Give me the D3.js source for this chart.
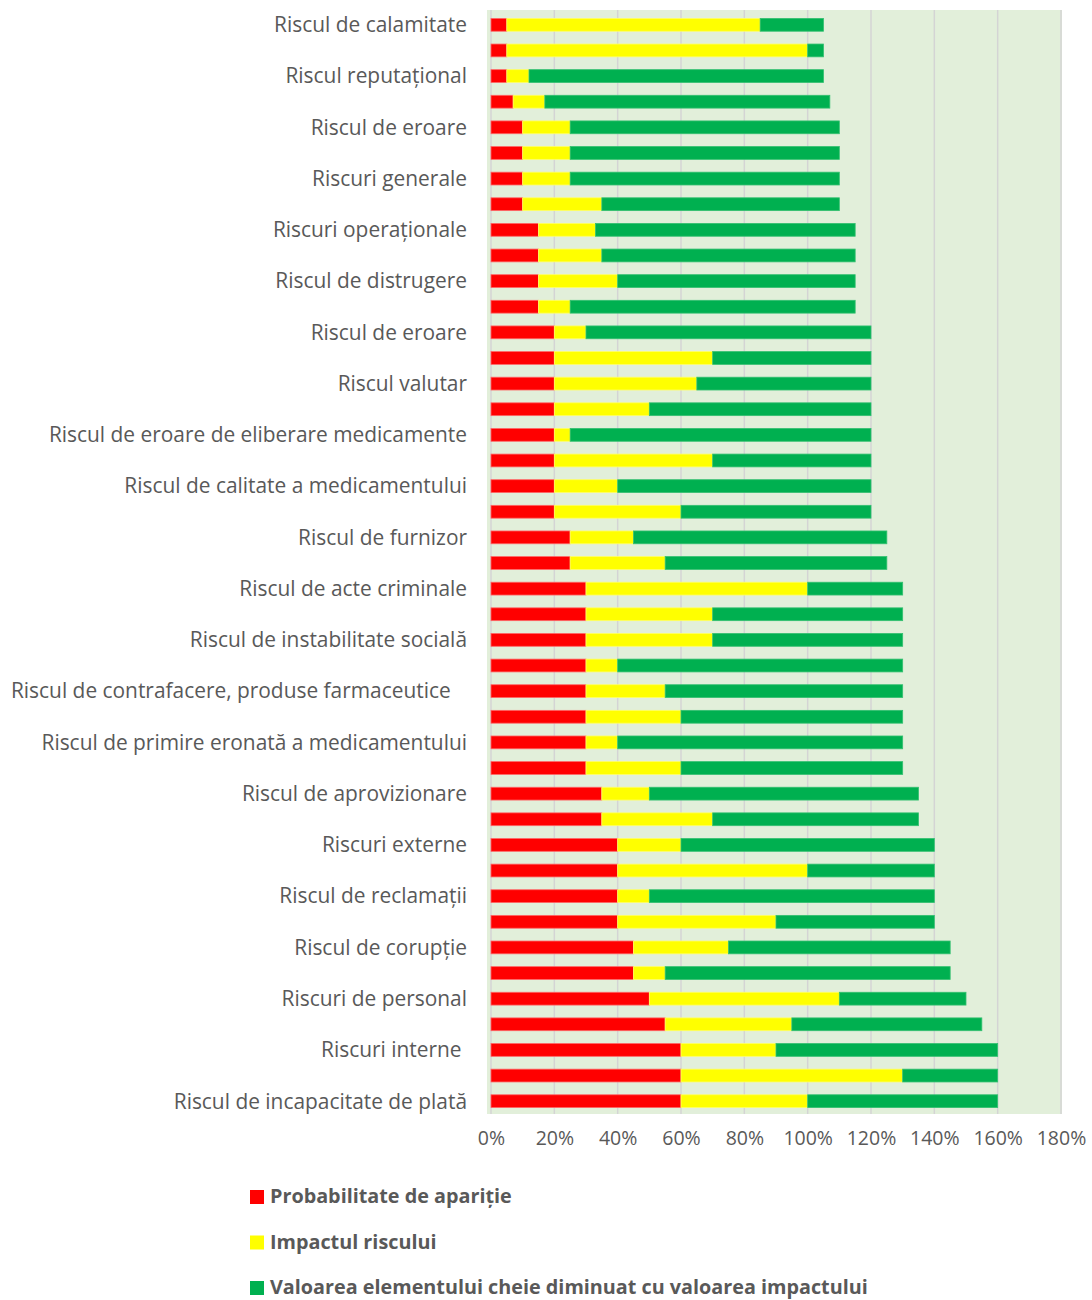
<!DOCTYPE html>
<html>
<head>
<meta charset="utf-8">
<script src="https://cdn.jsdelivr.net/npm/d3@7"></script>
<style>
  body { margin: 0; background: #fff; }
  text { font-family: "Open Sans", "Noto Sans", sans-serif; }
</style>
</head>
<body>
<div id="grafica"></div>
<script>
// etichete (doar cele vizibile, restul goale)
var etichete = ['Riscul de calamitate', '', 'Riscul reputațional', '', 'Riscul de eroare', '',
  'Riscuri generale', '', 'Riscuri operaționale', '', 'Riscul de distrugere', '',
  'Riscul de eroare', '', 'Riscul valutar', '', 'Riscul de eroare de eliberare medicamente', '',
  'Riscul de calitate a medicamentului', '', 'Riscul de furnizor', '', 'Riscul de acte criminale', '',
  'Riscul de instabilitate socială', '', 'Riscul de contrafacere, produse farmaceutice   ', '',
  'Riscul de primire eronată a medicamentului', '', 'Riscul de aprovizionare', '',
  'Riscuri externe', '', 'Riscul de reclamații', '', 'Riscul de corupție', '',
  'Riscuri de personal', '', 'Riscuri interne ', '', 'Riscul de incapacitate de plată'];

// valori in procente, de sus in jos
var probabilitate = [5, 5, 5, 7, 10, 10, 10, 10, 15, 15, 15, 15, 20, 20, 20, 20, 20, 20, 20, 20, 25, 25,
  30, 30, 30, 30, 30, 30, 30, 30, 35, 35, 40, 40, 40, 40, 45, 45, 50, 55, 60, 60, 60];
var impact = [80, 95, 7, 10, 15, 15, 15, 25, 18, 20, 25, 10, 10, 50, 45, 30, 5, 50, 20, 40, 20, 30,
  70, 40, 40, 10, 25, 30, 10, 30, 15, 35, 20, 60, 10, 50, 30, 10, 60, 40, 30, 70, 40];
var valoare = [20, 5, 93, 90, 85, 85, 85, 75, 82, 80, 75, 90, 90, 50, 55, 70, 95, 50, 80, 60, 80, 70,
  30, 60, 60, 90, 75, 70, 90, 70, 85, 65, 80, 40, 90, 50, 70, 90, 40, 60, 70, 30, 60];

var serii = ['Probabilitate de apariție', 'Impactul riscului', 'Valoarea elementului cheie diminuat cu valoarea impactului'];
var culori = ['#ff0000', '#ffff00', '#00b050'];
var bordura = ['#ff6666', '#ffff66', '#33c070'];
var tickuri = [0, 20, 40, 60, 80, 100, 120, 140, 160, 180];

var randuri = etichete.map(function (e, i) {
  return { idx: i, p: probabilitate[i], imp: impact[i], v: valoare[i] };
});

var svg = d3.select('#grafica').append('svg')
  .attr('width', 1092)
  .attr('height', 1300);

var stanga = 491, dreapta = 1061, sus = 12, jos = 1114;

var x = d3.scaleLinear().domain([0, 180]).range([stanga, dreapta]);
var y = d3.scaleBand().domain(d3.range(etichete.length)).range([sus, jos]).paddingInner(0.5).paddingOuter(0.25);

// fundal zona grafic
svg.append('rect')
  .attr('x', x(0) - 4)
  .attr('y', sus - 2)
  .attr('width', x(180) - x(0) + 5)
  .attr('height', jos - sus + 2)
  .attr('fill', '#e2efda');

// linii de grila
svg.append('g').selectAll('line')
  .data(tickuri)
  .join('line')
  .attr('x1', function (d) { return x(d); })
  .attr('x2', function (d) { return x(d); })
  .attr('y1', sus - 2)
  .attr('y2', jos)
  .attr('stroke', '#d4d4d4')
  .attr('stroke-width', 1.5);

var stiva = d3.stack().keys(['p', 'imp', 'v'])(randuri);

svg.append('g').selectAll('g')
  .data(stiva)
  .join('g')
  .attr('fill', function (d, i) { return culori[i]; })
  .attr('stroke', function (d, i) { return bordura[i]; })
  .attr('stroke-width', 0.8)
  .selectAll('rect')
  .data(function (d) { return d; })
  .join('rect')
  .attr('x', function (d) { return x(d[0]); })
  .attr('y', function (d) { return y(d.data.idx); })
  .attr('width', function (d) { return x(d[1]) - x(d[0]); })
  .attr('height', y.bandwidth());

// etichete categorii
svg.append('g').selectAll('text')
  .data(etichete)
  .join('text')
  .attr('x', 467)
  .attr('y', function (d, i) { return y(i) + y.bandwidth() / 2; })
  .attr('dy', '0.35em')
  .attr('text-anchor', 'end')
  .attr('font-size', '20.9px')
  .attr('fill', '#595959')
  .style('white-space', 'pre')
  .text(function (d) { return d; });

// axa x
var axa = svg.append('g')
  .attr('transform', 'translate(0,' + (jos + 6) + ')')
  .call(d3.axisBottom(x).tickValues(tickuri).tickSize(0).tickPadding(11)
    .tickFormat(function (d) { return d + '%'; }));
axa.select('.domain').remove();
axa.selectAll('text')
  .attr('font-size', '19.5px')
  .attr('fill', '#595959')
  .style('font-family', '"Open Sans", "Noto Sans", sans-serif');

// legenda
var leg = svg.append('g').selectAll('g')
  .data(serii)
  .join('g')
  .attr('transform', function (d, i) { return 'translate(250,' + (1197 + i * 45.5) + ')'; });
leg.append('rect')
  .attr('x', 0)
  .attr('y', -7)
  .attr('width', 14)
  .attr('height', 14)
  .attr('fill', function (d, i) { return culori[i]; });
leg.append('text')
  .attr('x', 20)
  .attr('dy', '0.32em')
  .attr('font-size', '19.8px')
  .attr('font-weight', 'bold')
  .attr('fill', '#595959')
  .text(function (d) { return d; });
</script>
</body>
</html>
